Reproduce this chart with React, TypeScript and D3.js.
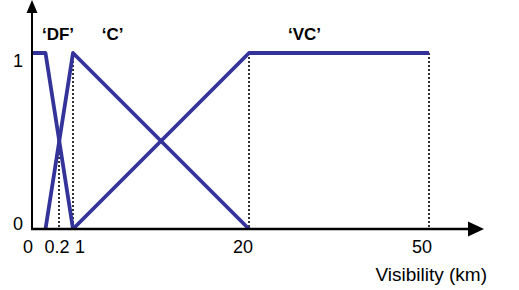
import React from "react";
import * as d3 from "d3";

const xBreaks = [0, 0.2, 1, 20, 50];
const xTickLabels = ["0", "0.2", "1", "20", "50"];
const yTickValues = [0, 1];
const yTickLabels = ["0", "1"];

const dfSeries: [number, number][] = [[0, 1], [0.1, 1], [1, 0]];
const cSeries: [number, number][] = [[0.1, 0], [1, 1], [20, 0]];
const vcSeries: [number, number][] = [[1, 0], [20, 1], [50, 1]];

const seriesNames = ["‘DF’", "‘C’", "‘VC’"];
const seriesLabelX = [0.074, 4.1, 26.5];

// dotted guide lines: [x, yTop]
const guides: [number, number][] = [[0.2, 0.5], [1, 1], [20, 1], [50, 1]];

const W = 519;
const H = 290;

export default function App() {
  const x = d3.scaleLinear().domain(xBreaks).range([32, 59, 73, 249, 429]);
  const y = d3.scaleLinear().domain([0, 1]).range([229, 53]);
  const line = d3
    .line<[number, number]>()
    .x((d) => x(d[0]))
    .y((d) => y(d[1]));
  const x0 = x(0);
  const y0 = y(0);
  const tickDx = [-4, -2, 7, -6, -7];
  const blue = "#33339a";
  const font = "Arial, 'Liberation Sans', sans-serif";

  return (
    <svg
      width={W}
      height={H}
      style={{ position: "absolute", left: 0, top: 0, background: "#fff" }}
      fontFamily={font}
    >
      {guides.map(([gx, gy], i) => (
        <line
          key={i}
          x1={x(gx)}
          x2={x(gx)}
          y1={y(gy)}
          y2={y0}
          stroke="#000"
          strokeWidth={1.6}
          strokeDasharray="2,2"
        />
      ))}
      {[dfSeries, cSeries, vcSeries].map((s, i) => (
        <path
          key={i}
          d={line(s) || ""}
          fill="none"
          stroke={blue}
          strokeWidth={3.8}
          strokeLinejoin="round"
        />
      ))}
      {/* axes */}
      <line x1={x0} x2={x0} y1={10} y2={y0 + 1} stroke="#000" strokeWidth={2} />
      <line x1={x0 - 1} x2={470} y1={y0} y2={y0} stroke="#000" strokeWidth={2.5} />
      <path d={`M${x0},0 L${x0 - 5.5},13 L${x0 + 5.5},13 Z`} fill="#000" />
      <path d={`M484,${y0} L468,${y0 - 7.5} L468,${y0 + 7.5} Z`} fill="#000" />
      {xBreaks.map((v, i) => (
        <text
          key={i}
          x={x(v) + tickDx[i]}
          y={253}
          textAnchor="middle"
          fontSize={18}
          fill="#000"
        >
          {xTickLabels[i]}
        </text>
      ))}
      {yTickValues.map((v, i) => (
        <text
          key={i}
          x={18}
          y={y(v) + (v === 0 ? 1 : 14)}
          textAnchor="middle"
          fontSize={18}
          fill="#000"
        >
          {yTickLabels[i]}
        </text>
      ))}
      {seriesNames.map((n, i) => (
        <text
          key={i}
          x={x(seriesLabelX[i])}
          y={40}
          fontSize={17}
          fontWeight="bold"
          fill="#000"
        >
          {n}
        </text>
      ))}
      <text x={487} y={281} textAnchor="end" fontSize={19} fill="#000">
        Visibility (km)
      </text>
    </svg>
  );
}
